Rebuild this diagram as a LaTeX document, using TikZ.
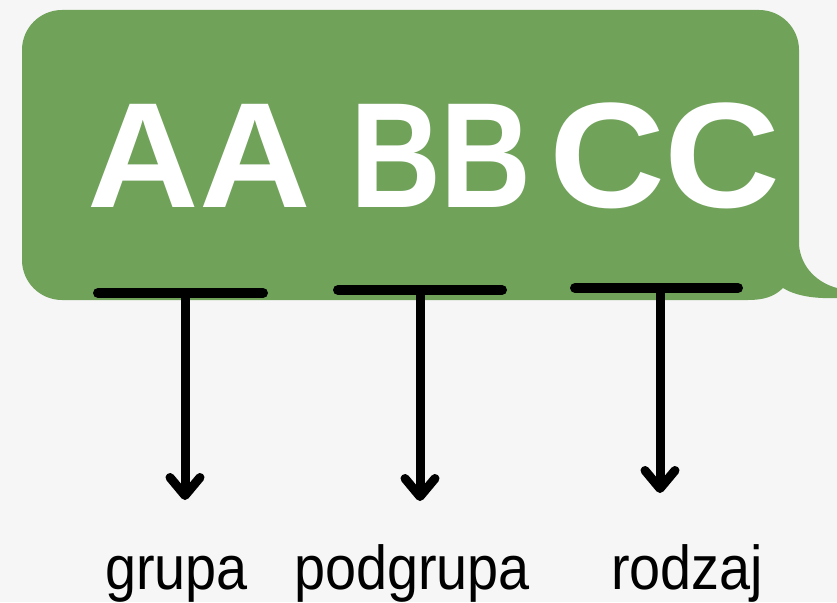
\documentclass[tikz,border=0pt]{standalone}
\usepackage{fontspec}
\setmainfont{Liberation Sans}
\newfontfamily\labelfont{Liberation Sans}[FakeStretch=0.9]
\usepackage{tikz}
\usetikzlibrary{positioning,calc,arrows.meta}
\definecolor{bggray}{RGB}{246,246,246}
\definecolor{bubblegreen}{RGB}{112,162,90}

\begin{document}
\begin{tikzpicture}[
    x=1pt,y=-1pt,
    word/.style={anchor=base,text=white,inner sep=0pt,font=\fontsize{150}{150}\selectfont\bfseries},
    label/.style={anchor=base,text=black,inner sep=0pt,font=\fontsize{62}{62}\selectfont\labelfont},
    bar/.style={line width=10pt,line cap=round},
    pointer/.style={line width=9pt,line cap=round,-{Straight Barb[length=18pt,width=30pt,round]}}
    ]
        \path[use as bounding box,fill=bggray] (0,0) rectangle (837,602);
        % speech bubble
        \fill[bubblegreen] (22,50) arc[start angle=180,end angle=270,radius=40]
            -- (759,10) arc[start angle=270,end angle=360,radius=40]
            -- (799,245) .. controls (801,268) and (818,283) .. (837,288)
            -- (837,298) .. controls (812,299) and (794,295) .. (783,288)
            .. controls (774,297) and (763,300) .. (748,300)
            -- (62,300) arc[start angle=90,end angle=180,radius=40] -- cycle;
        \node [word](aa) at (199.5,207) {\scalebox{1.03}[1]{AA}};
        \node [word](bb) at (441,207) {\scalebox{0.84}[1]{BB}};
        \node [word](cc) at (665,207) {\scalebox{1.07}[1]{CC}};
        \coordinate (b1l) at (98,293);  \coordinate (b1r) at (263,293);
        \coordinate (b2l) at (338,290); \coordinate (b2r) at (502,290);
        \coordinate (b3l) at (575,288); \coordinate (b3r) at (738,288);
        \draw [bar] (b1l) -- (b1r);
        \draw [bar] (b2l) -- (b2r);
        \draw [bar] (b3l) -- (b3r);
        \coordinate (s1) at (185,293); \coordinate (e1) at (185,500);
        \coordinate (s2) at (420,290); \coordinate (e2) at (420,501);
        \coordinate (s3) at (660,288); \coordinate (e3) at (660,493);
        \draw [pointer] (s1) -- (e1);
        \draw [pointer] (s2) -- (e2);
        \draw [pointer] (s3) -- (e3);
        \node [label](grupa) at (176.5,589) {grupa};
        \node [label](podgrupa) at (412,589) {podgrupa};
        \node [label](rodzaj) at (687,589) {rodzaj};
\end{tikzpicture}
\end{document}
